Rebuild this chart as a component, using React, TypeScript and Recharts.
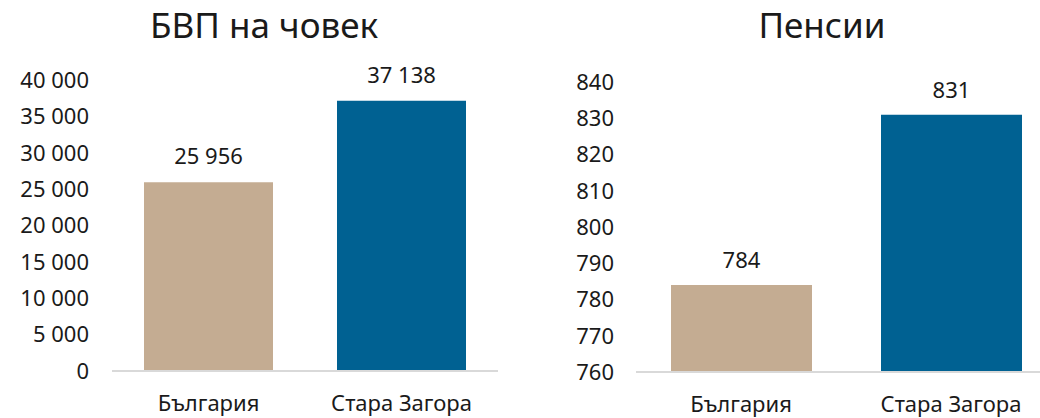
// Two side-by-side bar panels: GDP per capita and pensions, Bulgaria vs Stara Zagora.

import { Bar, BarChart, Cell, LabelList, XAxis, YAxis } from "recharts";

const categories = ["България", "Стара Загора"];
const gdpValues = [25956, 37138];
const pensionValues = [784, 831];
const gdpTicks = [0, 5000, 10000, 15000, 20000, 25000, 30000, 35000, 40000];
const pensionTicks = [760, 770, 780, 790, 800, 810, 820, 830, 840];

const COLORS = ["#C4AC92", "#006192"];
const FONT = "'Noto Sans', sans-serif";
const TEXT = "#1a1a1a";

const gdpData = categories.map((name, i) => ({ name, value: gdpValues[i] }));
const pensionData = categories.map((name, i) => ({ name, value: pensionValues[i] }));

const spaced = (v: number | string) =>
  String(v).replace(/\B(?=(\d{3})+(?!\d))/g, " ");

function Title({ text, center }: { text: string; center: number }) {
  return (
    <div
      style={{
        position: "absolute",
        left: center - 200,
        width: 400,
        top: 2,
        textAlign: "center",
        fontFamily: FONT,
        fontSize: 35,
        color: TEXT,
        lineHeight: "46px",
      }}
    >
      {text}
    </div>
  );
}

export default function App() {
  const tick = { fontFamily: FONT, fontSize: 22, fill: TEXT };
  const label = { fontFamily: FONT, fontSize: 22, fill: TEXT };
  return (
    <div
      style={{
        position: "absolute",
        left: 0,
        top: 0,
        width: 1040,
        height: 418,
        overflow: "hidden",
        background: "#fff",
      }}
    >
      <Title text="БВП на човек" center={264} />
      <Title text="Пенсии" center={822} />

      <div style={{ position: "absolute", left: 0, top: 0 }}>
        <BarChart
          width={520}
          height={418}
          data={gdpData}
          margin={{ top: 80, right: 22, bottom: 0, left: 0 }}
        >
          <XAxis
            dataKey="name"
            axisLine={{ stroke: "#D9D9D9", strokeWidth: 2 }}
            tickLine={false}
            tickSize={0}
            tickMargin={24}
            tick={tick}
            height={47}
          />
          <YAxis
            width={112}
            domain={[0, 40000]}
            ticks={gdpTicks}
            axisLine={false}
            tickLine={false}
            tickSize={0}
            tickMargin={23}
            tick={tick}
            tickFormatter={spaced}
            interval={0}
          />
          <Bar dataKey="value" barSize={129} isAnimationActive={false}>
            {gdpData.map((_, i) => (
              <Cell key={i} fill={COLORS[i]} />
            ))}
            <LabelList
              dataKey="value"
              position="top"
              offset={18}
              formatter={spaced}
              style={label}
            />
          </Bar>
        </BarChart>
      </div>

      <div style={{ position: "absolute", left: 520, top: 0 }}>
        <BarChart
          width={536}
          height={418}
          data={pensionData}
          margin={{ top: 82, right: 0, bottom: 0, left: 0 }}
        >
          <XAxis
            dataKey="name"
            axisLine={{ stroke: "#D9D9D9", strokeWidth: 2 }}
            tickLine={false}
            tickSize={0}
            tickMargin={24}
            tick={tick}
            height={46}
          />
          <YAxis
            width={116}
            domain={[760, 840]}
            ticks={pensionTicks}
            axisLine={false}
            tickLine={false}
            tickSize={0}
            tickMargin={22}
            tick={tick}
            interval={0}
          />
          <Bar dataKey="value" barSize={141} isAnimationActive={false}>
            {pensionData.map((_, i) => (
              <Cell key={i} fill={COLORS[i]} />
            ))}
            <LabelList dataKey="value" position="top" offset={17} style={label} />
          </Bar>
        </BarChart>
      </div>
    </div>
  );
}
